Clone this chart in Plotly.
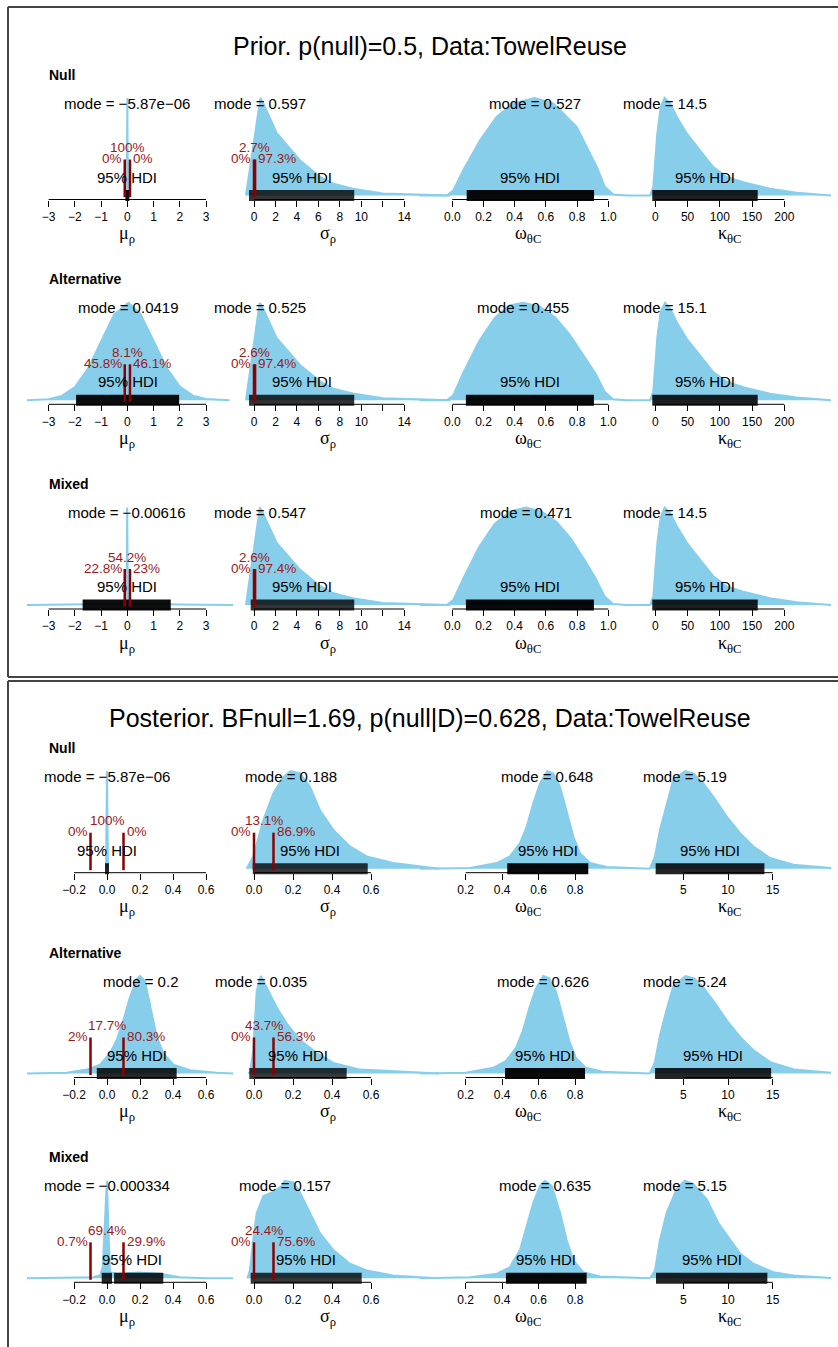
import plotly.graph_objects as go

W, H = 838, 1347
SANS = "Liberation Sans, Arial, Helvetica, sans-serif"
SERIF = "Liberation Serif, Times New Roman, serif"
SKY = "#87CEEB"
DARKRED = "#8B0000"
PCT_COLOR = "#9a1a1a"

# ---------------- density curves (x = parameter value, y = height relative to mode) ----------------
prior_null_mu_x = [-0.02, 0.0, 0.02]
prior_null_mu_y = [0.0, 1.0, 0.0]
prior_null_sigma_x = [-0.75, 0.0, 0.597, 0.84, 2.12, 4.3, 6.16, 7.4, 9.2, 12.0, 15.5, 18.3]
prior_null_sigma_y = [0.0, 0.55, 1.0, 0.95, 0.64, 0.36, 0.19, 0.12, 0.07, 0.02, 0.008, 0.0]
prior_null_omega_x = [-0.21, -0.036, 0.006, 0.07, 0.178, 0.285, 0.391, 0.527, 0.647, 0.733, 0.797, 0.862, 0.926, 0.979, 1.032, 1.118, 1.27]
prior_null_omega_y = [0.0, 0.0, 0.05, 0.26, 0.567, 0.808, 0.945, 1.0, 0.945, 0.808, 0.704, 0.498, 0.292, 0.086, 0.01, 0.0, 0.0]
prior_null_kappa_x = [-8.2, -3.1, 3.1, 8.4, 14.5, 22.8, 33.2, 48.7, 69.3, 89.9, 110.7, 136.4, 177.8, 219.2, 272.4]
prior_null_kappa_y = [0.0, 0.086, 0.636, 0.91, 1.0, 0.945, 0.807, 0.636, 0.464, 0.292, 0.189, 0.137, 0.069, 0.028, 0.0]

prior_alt_mu_x = [-3.83, -3.0, -2.5, -2.0, -1.5, -1.0, -0.5, 0.0419, 0.5, 1.0, 1.5, 2.0, 2.5, 3.0, 3.9]
prior_alt_mu_y = [0.0, 0.012, 0.045, 0.135, 0.325, 0.6, 0.88, 1.0, 0.885, 0.61, 0.33, 0.14, 0.048, 0.013, 0.0]
prior_alt_sigma_x = [-0.75, 0.0, 0.525, 0.8, 2.1, 4.3, 6.2, 7.4, 9.2, 12.0, 15.5, 18.3]
prior_alt_sigma_y = [0.0, 0.56, 1.0, 0.95, 0.64, 0.36, 0.19, 0.12, 0.07, 0.02, 0.008, 0.0]
prior_alt_omega_x = [-0.21, -0.036, 0.006, 0.07, 0.17, 0.27, 0.36, 0.455, 0.56, 0.66, 0.75, 0.84, 0.92, 0.975, 1.03, 1.118, 1.27]
prior_alt_omega_y = [0.0, 0.0, 0.05, 0.28, 0.6, 0.84, 0.97, 1.0, 0.96, 0.85, 0.68, 0.47, 0.27, 0.09, 0.01, 0.0, 0.0]
prior_alt_kappa_x = [-8.2, -3.1, 3.1, 8.4, 15.1, 23.0, 33.2, 48.7, 69.3, 89.9, 110.7, 136.4, 177.8, 219.2, 272.4]
prior_alt_kappa_y = [0.0, 0.09, 0.64, 0.91, 1.0, 0.94, 0.8, 0.63, 0.46, 0.29, 0.19, 0.135, 0.068, 0.028, 0.0]

prior_mixed_mu_x = [-3.83, -2.0, -1.0, -0.1, -0.03, -0.00616, 0.02, 0.1, 1.0, 2.0, 4.03]
prior_mixed_mu_y = [0.0, 0.004, 0.01, 0.012, 0.02, 1.0, 0.02, 0.012, 0.01, 0.004, 0.0]
prior_mixed_sigma_x = [-0.75, 0.0, 0.547, 0.8, 2.1, 4.3, 6.2, 7.4, 9.2, 12.0, 15.5, 18.3]
prior_mixed_sigma_y = [0.0, 0.55, 1.0, 0.95, 0.64, 0.36, 0.19, 0.12, 0.07, 0.02, 0.008, 0.0]
prior_mixed_omega_x = [-0.21, -0.036, 0.006, 0.07, 0.17, 0.27, 0.37, 0.471, 0.57, 0.67, 0.76, 0.845, 0.92, 0.975, 1.03, 1.118, 1.27]
prior_mixed_omega_y = [0.0, 0.0, 0.05, 0.27, 0.59, 0.83, 0.96, 1.0, 0.96, 0.85, 0.68, 0.47, 0.27, 0.09, 0.01, 0.0, 0.0]
prior_mixed_kappa_x = [-8.2, -3.1, 3.1, 8.4, 14.5, 22.8, 33.2, 48.7, 69.3, 89.9, 110.7, 136.4, 177.8, 219.2, 272.4]
prior_mixed_kappa_y = [0.0, 0.086, 0.63, 0.9, 1.0, 0.945, 0.81, 0.64, 0.465, 0.295, 0.19, 0.137, 0.069, 0.028, 0.0]

post_null_mu_x = [-0.006, 0.0, 0.006]
post_null_mu_y = [0.0, 1.0, 0.0]
post_null_sigma_x = [-0.037, -0.004, 0.048, 0.099, 0.150, 0.188, 0.236, 0.287, 0.338, 0.407, 0.492, 0.578, 0.714, 0.851, 0.95]
post_null_sigma_y = [0.0, 0.126, 0.5, 0.772, 0.94, 1.0, 0.977, 0.84, 0.60, 0.398, 0.228, 0.126, 0.058, 0.023, 0.0]
post_null_omega_x = [-0.051, 0.224, 0.370, 0.443, 0.498, 0.535, 0.571, 0.608, 0.648, 0.681, 0.718, 0.754, 0.791, 0.827, 0.882, 0.974, 1.211]
post_null_omega_y = [0.0, 0.007, 0.058, 0.126, 0.262, 0.432, 0.670, 0.874, 1.0, 0.977, 0.84, 0.602, 0.33, 0.16, 0.058, 0.017, 0.0]
post_null_kappa_x = [1.27, 1.83, 2.39, 3.14, 3.88, 5.19, 6.12, 7.24, 8.36, 9.86, 11.35, 12.84, 14.71, 17.32, 21.54]
post_null_kappa_y = [0.0, 0.126, 0.398, 0.670, 0.908, 1.0, 0.977, 0.874, 0.738, 0.534, 0.364, 0.228, 0.109, 0.041, 0.007]

post_alt_mu_x = [-0.485, -0.244, -0.123, -0.042, 0.018, 0.059, 0.099, 0.139, 0.18, 0.2, 0.23, 0.261, 0.301, 0.341, 0.402, 0.503, 0.665, 0.765]
post_alt_mu_y = [0.0, 0.007, 0.04, 0.091, 0.209, 0.343, 0.545, 0.781, 0.967, 1.0, 0.949, 0.714, 0.377, 0.209, 0.091, 0.033, 0.007, 0.0]
post_alt_sigma_x = [-0.029, -0.019, -0.004, 0.014, 0.035, 0.065, 0.116, 0.168, 0.236, 0.322, 0.407, 0.544, 0.851, 0.95]
post_alt_sigma_y = [0.0, 0.02, 0.242, 0.848, 1.0, 0.882, 0.68, 0.512, 0.343, 0.209, 0.108, 0.04, 0.007, 0.0]
post_alt_omega_x = [-0.051, 0.2, 0.35, 0.42, 0.476, 0.513, 0.549, 0.586, 0.626, 0.659, 0.696, 0.732, 0.769, 0.805, 0.86, 0.952, 1.211]
post_alt_omega_y = [0.0, 0.007, 0.058, 0.126, 0.262, 0.432, 0.67, 0.874, 1.0, 0.977, 0.84, 0.602, 0.33, 0.16, 0.058, 0.017, 0.0]
post_alt_kappa_x = [1.27, 1.83, 2.39, 3.14, 3.9, 5.24, 6.2, 7.3, 8.4, 9.9, 11.4, 12.9, 14.8, 17.4, 21.54]
post_alt_kappa_y = [0.0, 0.12, 0.39, 0.66, 0.9, 1.0, 0.975, 0.875, 0.74, 0.54, 0.37, 0.235, 0.112, 0.042, 0.007]

post_mixed_mu_x = [-0.485, -0.083, -0.042, -0.026, -0.018, -0.010, -0.000334, 0.004, 0.010, 0.018, 0.059, 0.2, 0.321, 0.442, 0.604, 0.764]
post_mixed_mu_y = [0.0, 0.01, 0.028, 0.115, 0.393, 0.74, 1.0, 0.74, 0.323, 0.0625, 0.046, 0.059, 0.046, 0.01, 0.0, 0.0]
post_mixed_sigma_x = [-0.034, -0.021, -0.004, 0.014, 0.048, 0.099, 0.142, 0.157, 0.202, 0.236, 0.287, 0.338, 0.407, 0.492, 0.578, 0.714, 0.851, 0.95]
post_mixed_sigma_y = [0.0, 0.08, 0.393, 0.671, 0.844, 0.885, 0.948, 1.0, 0.983, 0.879, 0.671, 0.463, 0.289, 0.15, 0.08, 0.028, 0.01, 0.0]
post_mixed_omega_x = [-0.051, 0.224, 0.370, 0.443, 0.498, 0.535, 0.571, 0.608, 0.635, 0.672, 0.718, 0.754, 0.791, 0.845, 0.937, 1.211]
post_mixed_omega_y = [0.0, 0.01, 0.046, 0.115, 0.289, 0.531, 0.775, 0.948, 1.0, 0.948, 0.671, 0.393, 0.184, 0.0625, 0.018, 0.0]
post_mixed_kappa_x = [1.27, 1.83, 2.39, 3.14, 4.26, 5.15, 6.12, 7.62, 8.92, 10.23, 11.35, 12.84, 15.08, 17.32, 21.54]
post_mixed_kappa_y = [0.0, 0.08, 0.393, 0.671, 0.914, 1.0, 0.965, 0.809, 0.567, 0.393, 0.254, 0.15, 0.0625, 0.028, 0.004]

# ---------------- modes, HDIs, ROPE percentages ----------------
prior_null_modes = [-5.87e-06, 0.597, 0.527, 14.5]
prior_alt_modes = [0.0419, 0.525, 0.455, 15.1]
prior_mixed_modes = [-0.00616, 0.547, 0.471, 14.5]
post_null_modes = [-5.87e-06, 0.188, 0.648, 5.19]
post_alt_modes = [0.2, 0.035, 0.626, 5.24]
post_mixed_modes = [-0.000334, 0.157, 0.635, 5.15]

prior_null_hdi = [[(-0.0001, 0.0001)], [(-0.28, 9.15)], [(0.105, 0.896)], [(-1.6, 155.7)]]
prior_alt_hdi = [[(-1.88, 1.9)], [(-0.28, 9.15)], [(0.1, 0.895)], [(-1.6, 155.7)]]
prior_mixed_hdi = [[(-1.63, 1.58)], [(-0.12, 9.15)], [(0.1, 0.895)], [(-1.6, 155.7)]]
post_null_hdi = [[(-1e-05, 1e-05)], [(0.004, 0.573)], [(0.439, 0.862)], [(2.13, 13.85)]]
post_alt_hdi = [[(-0.05, 0.41)], [(-0.014, 0.465)], [(0.427, 0.844)], [(2.06, 14.6)]]
post_mixed_hdi = [[(-0.02, 0.018), (0.055, 0.329)], [(-0.007, 0.542)], [(0.432, 0.853)], [(2.17, 14.18)]]

# percent of mass below / inside / above the ROPE, for mu and sigma
prior_null_pct = [[0, 100, 0], [0, 2.7, 97.3]]
prior_alt_pct = [[45.8, 8.1, 46.1], [0, 2.6, 97.4]]
prior_mixed_pct = [[22.8, 54.2, 23], [0, 2.6, 97.4]]
post_null_pct = [[0, 100, 0], [0, 13.1, 86.9]]
post_alt_pct = [[2, 17.7, 80.3], [0, 43.7, 56.3]]
post_mixed_pct = [[0.7, 69.4, 29.9], [0, 24.4, 75.6]]

rope_mu = [-0.1, 0.1]
rope_sigma = [0.0, 0.1]

model_names = ["Null", "Alternative", "Mixed"]
param_titles = ["μ<sub>ρ</sub>", "σ<sub>ρ</sub>", "ω<sub>θC</sub>", "κ<sub>θC</sub>"]

prior_ticks = [[-3, -2, -1, 0, 1, 2, 3], [0, 2, 4, 6, 8, 10, 12, 14], [0, 0.2, 0.4, 0.6, 0.8, 1.0], [0, 50, 100, 150, 200]]
prior_ticktext = [["−3", "−2", "−1", "0", "1", "2", "3"], ["0", "2", "4", "6", "8", "10", "", "14"],
                  ["0.0", "0.2", "0.4", "0.6", "0.8", "1.0"], ["0", "50", "100", "150", "200"]]
post_ticks = [[-0.2, 0, 0.2, 0.4, 0.6], [0, 0.2, 0.4, 0.6], [0.2, 0.4, 0.6, 0.8], [5, 10, 15]]
post_ticktext = [["−0.2", "0.0", "0.2", "0.4", "0.6"], ["0.0", "0.2", "0.4", "0.6"],
                 ["0.2", "0.4", "0.6", "0.8"], ["5", "10", "15"]]

prior_title = "Prior. p(null)=0.5, Data:TowelReuse"
post_title = "Posterior. BFnull=1.69, p(null|D)=0.628, Data:TowelReuse"

# ---------------- page geometry (pixels) ----------------
COL_PX = [(0, 246), (236, 462), (415, 662), (640, 838)]
COL_TITLE_PX = [127.3, 328.3, 528.0, 730.0]
# two reference ticks per column: (value_a, px_a, value_b, px_b)
PRIOR_SCALE = [(-3, 48.7, 3, 206.0), (0, 254.0, 14, 404.3), (0.0, 452.3, 1.0, 608.3), (0, 655.3, 200, 784.3)]
POST_SCALE = [(-0.2, 74.0, 0.6, 206.0), (0.0, 254.0, 0.6, 371.0), (0.2, 465.7, 0.8, 575.0), (5, 683.3, 15, 772.7)]
PRIOR_AXIS_PY = [199.5, 404.3, 609.0]
POST_AXIS_PY = [872.7, 1077.5, 1282.3]
BASE_OFF, PEAK_OFF, TOP_OFF = 4.0, 101.5, 112.0


def yp(py):
    return 1 - py / H


def xp(px):
    return px / W


def fmt_num(v):
    return f"{v:.3g}".replace("-", "−")


sections = [
    dict(scale=PRIOR_SCALE, axis_py=PRIOR_AXIS_PY, ticks=prior_ticks, ticktext=prior_ticktext,
         alpha=[0.95, 0.8, 0.96, 0.88],
         rows=[
             ([prior_null_mu_x, prior_null_sigma_x, prior_null_omega_x, prior_null_kappa_x],
              [prior_null_mu_y, prior_null_sigma_y, prior_null_omega_y, prior_null_kappa_y],
              prior_null_modes, prior_null_hdi, prior_null_pct),
             ([prior_alt_mu_x, prior_alt_sigma_x, prior_alt_omega_x, prior_alt_kappa_x],
              [prior_alt_mu_y, prior_alt_sigma_y, prior_alt_omega_y, prior_alt_kappa_y],
              prior_alt_modes, prior_alt_hdi, prior_alt_pct),
             ([prior_mixed_mu_x, prior_mixed_sigma_x, prior_mixed_omega_x, prior_mixed_kappa_x],
              [prior_mixed_mu_y, prior_mixed_sigma_y, prior_mixed_omega_y, prior_mixed_kappa_y],
              prior_mixed_modes, prior_mixed_hdi, prior_mixed_pct),
         ]),
    dict(scale=POST_SCALE, axis_py=POST_AXIS_PY, ticks=post_ticks, ticktext=post_ticktext,
         alpha=[0.85, 0.78, 0.96, 0.86],
         rows=[
             ([post_null_mu_x, post_null_sigma_x, post_null_omega_x, post_null_kappa_x],
              [post_null_mu_y, post_null_sigma_y, post_null_omega_y, post_null_kappa_y],
              post_null_modes, post_null_hdi, post_null_pct),
             ([post_alt_mu_x, post_alt_sigma_x, post_alt_omega_x, post_alt_kappa_x],
              [post_alt_mu_y, post_alt_sigma_y, post_alt_omega_y, post_alt_kappa_y],
              post_alt_modes, post_alt_hdi, post_alt_pct),
             ([post_mixed_mu_x, post_mixed_sigma_x, post_mixed_omega_x, post_mixed_kappa_x],
              [post_mixed_mu_y, post_mixed_sigma_y, post_mixed_omega_y, post_mixed_kappa_y],
              post_mixed_modes, post_mixed_hdi, post_mixed_pct),
         ]),
]

fig = go.Figure()
axes = {}
shapes = []
annotations = []

txt_font = dict(family=SANS, size=15, color="black")
pct_font = dict(family=SANS, size=13.5, color=PCT_COLOR)

k = 0
for sec in sections:
    for r, (xs_row, ys_row, modes, hdis, pcts) in enumerate(sec["rows"]):
        axis_py = sec["axis_py"][r]
        # model name above each row
        annotations.append(dict(xref="paper", yref="paper", x=xp(46.5), y=yp(axis_py - 125),
                                text=f"<b>{model_names[r]}</b>", showarrow=False, xanchor="left",
                                yanchor="middle", font=dict(family=SANS, size=14, color="black")))
        for c in range(4):
            k += 1
            xn = "x" if k == 1 else f"x{k}"
            yn = "y" if k == 1 else f"y{k}"
            v_a, p_a, v_b, p_b = sec["scale"][c]
            upp = (v_b - v_a) / (p_b - p_a)
            L, R = COL_PX[c]
            xr = [v_a + (L - p_a) * upp, v_a + (R - p_a) * upp]
            s_y = PEAK_OFF - BASE_OFF
            axes["xaxis" if k == 1 else f"xaxis{k}"] = dict(
                domain=[xp(L), xp(R)], range=xr, anchor=yn,
                tickmode="array", tickvals=sec["ticks"][c], ticktext=sec["ticktext"][c],
                ticks="outside", ticklen=6, tickwidth=1, tickcolor="black",
                showline=False, showgrid=False, zeroline=False, fixedrange=True,
                tickfont=dict(family=SANS, size=12, color="black"))
            axes["yaxis" if k == 1 else f"yaxis{k}"] = dict(
                domain=[yp(axis_py), yp(axis_py - TOP_OFF)],
                range=[-BASE_OFF / s_y, (TOP_OFF - BASE_OFF) / s_y],
                anchor=xn, visible=False, fixedrange=True)

            # density
            fig.add_trace(go.Scatter(x=xs_row[c], y=ys_row[c], xaxis=xn, yaxis=yn, mode="lines",
                                     fill="tozeroy", fillcolor=SKY,
                                     line=dict(color=SKY, width=2), hoverinfo="skip"))

            # axis line between first and last tick
            tv = sec["ticks"][c]
            shapes.append(dict(type="line", xref=xn, yref="paper", x0=tv[0], x1=tv[-1],
                               y0=yp(axis_py), y1=yp(axis_py), line=dict(color="black", width=1)))

            # HDI bar(s)
            pad = 2 * upp
            for lo, hi in hdis[c]:
                shapes.append(dict(type="rect", xref=xn, yref="paper", x0=lo - pad, x1=hi + pad,
                                   y0=yp(axis_py + 1.5), y1=yp(axis_py - 9.5),
                                   fillcolor=f"rgba(0,0,0,{sec['alpha'][c]})", line=dict(width=0)))
            h_lo = min(iv[0] for iv in hdis[c])
            h_hi = max(iv[1] for iv in hdis[c])
            annotations.append(dict(xref=xn, yref="paper", x=(h_lo + h_hi) / 2, y=yp(axis_py - 22.5),
                                    text="95% HDI", showarrow=False, xanchor="center", yanchor="middle",
                                    font=txt_font))

            # mode label
            annotations.append(dict(xref=xn, yref="paper", x=modes[c], y=yp(axis_py - 96.5),
                                    text=f"mode = {fmt_num(modes[c])}", showarrow=False,
                                    xanchor="center", yanchor="middle", font=txt_font))

            # ROPE lines and percentages
            if c < 2:
                rope = rope_mu if c == 0 else rope_sigma
                below, inside, above = pcts[c]
                for v in rope:
                    shapes.append(dict(type="line", xref=xn, yref="paper", x0=v, x1=v,
                                       y0=yp(axis_py - 2.5), y1=yp(axis_py - 40),
                                       line=dict(color=DARKRED, width=2.5)))
                annotations.append(dict(xref=xn, yref="paper", x=rope[0], y=yp(axis_py - 41),
                                        text=f"{below:g}%", showarrow=False, xanchor="right",
                                        yanchor="middle", xshift=-1, font=pct_font))
                annotations.append(dict(xref=xn, yref="paper", x=(rope[0] + rope[1]) / 2,
                                        y=yp(axis_py - 52), text=f"{inside:g}%", showarrow=False,
                                        xanchor="center", yanchor="middle", font=pct_font))
                annotations.append(dict(xref=xn, yref="paper", x=rope[1], y=yp(axis_py - 41),
                                        text=f"{above:g}%", showarrow=False, xanchor="left",
                                        yanchor="middle", xshift=1, font=pct_font))

            # parameter name under the axis
            annotations.append(dict(xref="paper", yref="paper", x=xp(COL_TITLE_PX[c]),
                                    y=yp(axis_py + 35), text=param_titles[c], showarrow=False,
                                    xanchor="center", yanchor="middle",
                                    font=dict(family=SERIF, size=18, color="black")))

# section titles
annotations.append(dict(xref="paper", yref="paper", x=xp(430), y=yp(46), text=prior_title,
                        showarrow=False, xanchor="center", yanchor="middle",
                        font=dict(family=SANS, size=25, color="black")))
annotations.append(dict(xref="paper", yref="paper", x=xp(430), y=yp(718), text=post_title,
                        showarrow=False, xanchor="center", yanchor="middle",
                        font=dict(family=SANS, size=25, color="black")))

# frames around the two sections
frame = dict(color="#444444", width=2)
for x0, y0, x1, y1 in [(8, 7, 840, 7), (8, 7, 8, 677), (8, 677, 840, 677),
                       (8, 681, 840, 681), (8, 681, 8, 1350)]:
    shapes.append(dict(type="line", xref="paper", yref="paper", x0=xp(x0), x1=xp(x1),
                       y0=yp(y0), y1=yp(y1), line=frame))

fig.update_layout(width=W, height=H, margin=dict(l=0, r=0, t=0, b=0), autosize=False,
                  paper_bgcolor="white", plot_bgcolor="rgba(0,0,0,0)", showlegend=False,
                  shapes=shapes, annotations=annotations, **axes)

fig.write_html("out.html")
